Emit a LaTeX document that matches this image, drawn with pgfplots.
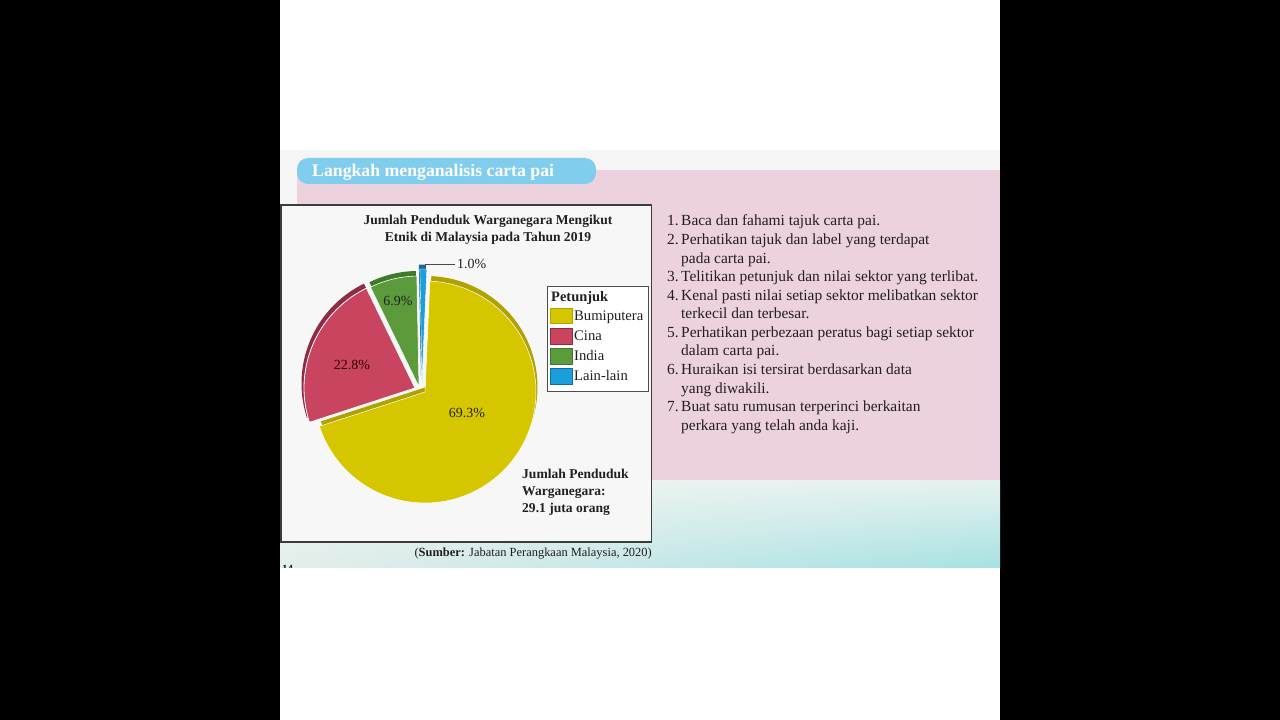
\documentclass[border=0pt]{standalone}
\usepackage{pgfplots}
\pgfplotsset{compat=1.18}
\usetikzlibrary{shadings}
\usepackage{fontspec}
\setmainfont{Liberation Serif}

\definecolor{pagebg}{HTML}{F5F5F5}
\definecolor{pinkbg}{HTML}{ECD1DF}
\definecolor{hdrblue}{HTML}{80CDEE}
\definecolor{boxbg}{HTML}{F6F7F6}
\definecolor{boxline}{HTML}{3C3C3C}
\definecolor{txt}{HTML}{231F20}
\definecolor{tealA}{HTML}{F1F4F2}
\definecolor{tealB}{HTML}{E6F2EF}
\definecolor{tealC}{HTML}{E3EEEB}
\definecolor{tealD}{HTML}{A6E1E2}
\definecolor{cYel}{HTML}{D6C600}
\definecolor{cYelD}{HTML}{B0A200}
\definecolor{cRed}{HTML}{C9445F}
\definecolor{cRedD}{HTML}{8E2C46}
\definecolor{cGrn}{HTML}{5B9B3C}
\definecolor{cGrnD}{HTML}{3E7A2A}
\definecolor{cBlu}{HTML}{1A9FDB}
\definecolor{cBluD}{HTML}{156C9C}

% data (percent)
\def\pBumi{69.3}
\def\pCina{22.8}
\def\pIndia{6.9}
\def\pLain{1.0}
\def\startA{87.5}
\def\R{111}

\begin{document}
\begin{tikzpicture}[x=1bp,y=-1bp]
\pgfmathsetmacro\yS{\startA-3.6*\pBumi}
\pgfmathsetmacro\yE{\startA}
\pgfmathsetmacro\bS{\startA}
\pgfmathsetmacro\bE{\bS+3.6*\pLain}
\pgfmathsetmacro\gS{\bE}
\pgfmathsetmacro\gE{\gS+3.6*\pIndia}
\pgfmathsetmacro\rS{\gE}
\pgfmathsetmacro\rE{\rS+3.6*\pCina}
% frame
\fill[black] (0,0) rectangle (1280,720);
\fill[white] (280,0) rectangle (1000,720);
\fill[pagebg] (280,150) rectangle (1000,480);
\shade[upper left=tealA, upper right=tealB, lower left=tealC, lower right=tealD] (280,480) rectangle (1000,568);
\fill[pinkbg] (297,170) rectangle (1000,480);
\fill[hdrblue, rounded corners=11bp] (297,158) rectangle (596,184);
\node[anchor=base west, text=white, font=\fontsize{17.8}{20}\selectfont\bfseries, inner sep=0pt] at (312,177) {Langkah menganalisis carta pai};

% chart box
\filldraw[fill=boxbg, draw=boxline, line width=1.5bp] (281,205) rectangle (651.5,542);
\node[align=center, text=txt, font=\fontsize{13.6}{17}\selectfont\bfseries, inner sep=0pt] at (488,230) {Jumlah Penduduk Warganegara Mengikut\\Etnik di Malaysia pada Tahun 2019};

\begin{axis}[at={(425bp,-392bp)}, anchor=center, x=1bp, y=1bp,
  xmin=-130, xmax=130, ymin=-130, ymax=130, hide axis, clip=false]
% Bumiputera
\addplot[fill=cYelD, draw=none, domain=\yS:\yE, samples=120, variable=\t]
  ({1.5+\R*cos(\t)},{5+\R*sin(\t)}) -- (axis cs:1.5,5) -- cycle;
\addplot[fill=cYel, draw=white, line width=0.5bp, domain=\yS:\yE, samples=120, variable=\t]
  ({\R*cos(\t)},{\R*sin(\t)}) -- (axis cs:0,0) -- cycle;
% Cina
\addplot[fill=cRedD, draw=none, domain=\rS:\rE, samples=60, variable=\t]
  ({-12.5+\R*cos(\t)},{8.5+\R*sin(\t)}) -- (axis cs:-12.5,8.5) -- cycle;
\addplot[fill=cRed, draw=white, line width=0.8bp, domain=\rS:\rE, samples=60, variable=\t]
  ({-10+\R*cos(\t)},{4+\R*sin(\t)}) -- (axis cs:-10,4) -- cycle;
% India
\addplot[fill=cGrnD, draw=none, domain=\gS:\gE, samples=30, variable=\t]
  ({-7+\R*cos(\t)},{10+\R*sin(\t)}) -- (axis cs:-7,10) -- cycle;
\addplot[fill=cGrn, draw=white, line width=0.6bp, domain=\gS:\gE, samples=30, variable=\t]
  ({-6+\R*cos(\t)},{5+\R*sin(\t)}) -- (axis cs:-6,5) -- cycle;
% Lain-lain
\addplot[fill=cBluD, draw=none, domain=\bS:\bE, samples=10, variable=\t]
  ({-4+\R*cos(\t)},{16.5+\R*sin(\t)}) -- (axis cs:-4,16.5) -- cycle;
\addplot[fill=cBlu, draw=white, line width=0.4bp, domain=\bS:\bE, samples=10, variable=\t]
  ({-3+\R*cos(\t)},{12+\R*sin(\t)}) -- (axis cs:-3,12) -- cycle;
\end{axis}

% pie labels
\begin{scope}[every node/.style={text=txt, font=\fontsize{14}{16}\selectfont, inner sep=0pt}]
\node at (467,413) {69.3\%};
\node[text=black!80!red] at (352,365) {22.8\%};
\node at (398,301) {6.9\%};
\node[anchor=west] at (457,264) {1.0\%};
\end{scope}
\draw[gray!60!black, line width=0.8bp] (425,269) -- (425,264) -- (455,264);

% legend
\filldraw[fill=white, draw=gray!60!black, line width=0.8bp] (547,286) rectangle (648,391);
\node[anchor=base west, text=txt, font=\fontsize{14.5}{16}\selectfont\bfseries, inner sep=0pt] at (551,301) {Petunjuk};
\filldraw[fill=cYel, draw=cYelD, line width=0.6bp] (550,308) rectangle (572,323);
\filldraw[fill=cRed, draw=cRedD, line width=0.6bp] (550,328) rectangle (572,344);
\filldraw[fill=cGrn, draw=cGrnD, line width=0.6bp] (550,348) rectangle (572,364);
\filldraw[fill=cBlu, draw=cBluD, line width=0.6bp] (550,368) rectangle (572,384);
\begin{scope}[every node/.style={anchor=base west, text=txt, font=\fontsize{14.7}{16}\selectfont, inner sep=0pt}]
\node at (574,320) {Bumiputera};
\node at (574,340) {Cina};
\node at (574,360) {India};
\node at (574,380) {Lain-lain};
\end{scope}

% total note
\begin{scope}[every node/.style={anchor=base west, text=txt, font=\fontsize{13.6}{16}\selectfont\bfseries, inner sep=0pt}]
\node at (522,478) {Jumlah Penduduk};
\node at (522,495) {Warganegara:};
\node at (522,512) {29.1 juta orang};
\end{scope}
\node[anchor=base east, text=txt, font=\fontsize{12.5}{15}\selectfont, inner sep=0pt] at (652,556) {(\textbf{Sumber:} Jabatan Perangkaan Malaysia, 2020)};

% list
\begin{scope}[every node/.style={anchor=base west, text=txt, font=\fontsize{15.5}{18}\selectfont, inner sep=0pt}]
\node at (667,226) {1.}; \node at (681,226) {Baca dan fahami tajuk carta pai.};
\node at (667,244.6) {2.}; \node at (681,244.6) {Perhatikan tajuk dan label yang terdapat};
\node at (681,263.1) {pada carta pai.};
\node at (667,281.7) {3.}; \node at (681,281.7) {Telitikan petunjuk dan nilai sektor yang terlibat.};
\node at (667,300.2) {4.}; \node at (681,300.2) {Kenal pasti nilai setiap sektor melibatkan sektor};
\node at (681,318.8) {terkecil dan terbesar.};
\node at (667,337.3) {5.}; \node at (681,337.3) {Perhatikan perbezaan peratus bagi setiap sektor};
\node at (681,355.9) {dalam carta pai.};
\node at (667,374.4) {6.}; \node at (681,374.4) {Huraikan isi tersirat berdasarkan data};
\node at (681,393) {yang diwakili.};
\node at (667,411.5) {7.}; \node at (681,411.5) {Buat satu rumusan terperinci berkaitan};
\node at (681,430) {perkara yang telah anda kaji.};
\end{scope}

% page number (cut)
\node[anchor=base west, text=txt, font=\fontsize{11}{12}\selectfont\bfseries, inner sep=0pt] at (282,572) {14};
\fill[white] (280,568) rectangle (1000,720);
\end{tikzpicture}
\end{document}
